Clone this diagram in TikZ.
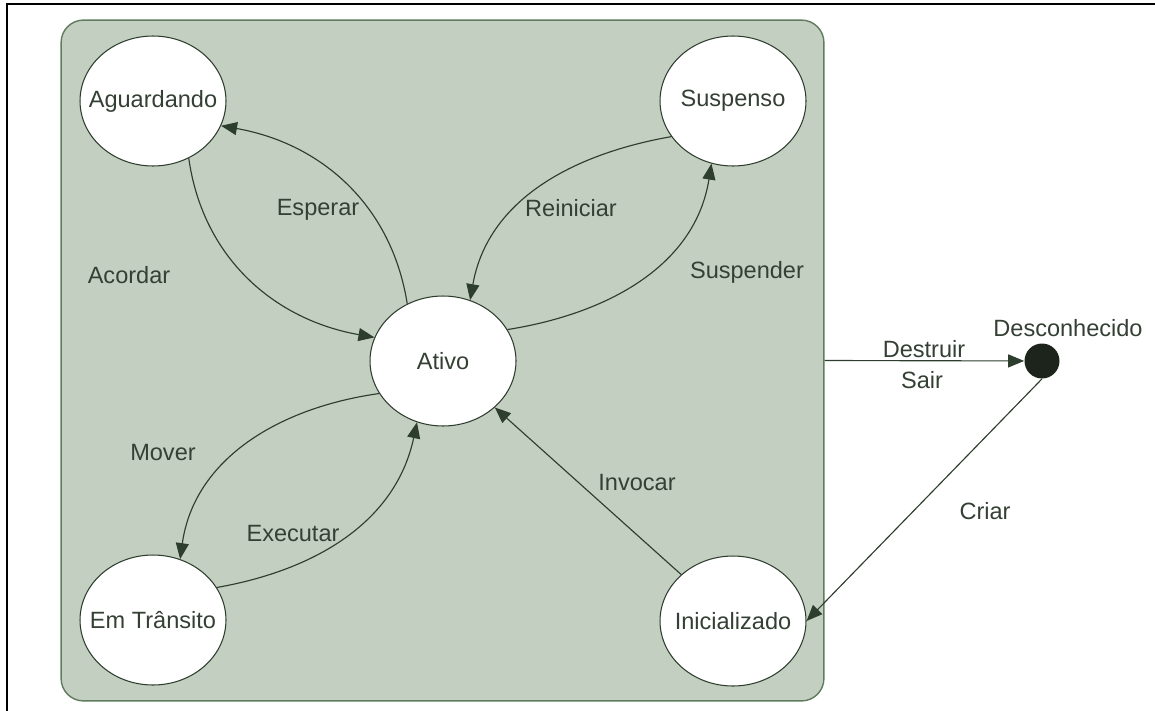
\documentclass[tikz,border=0pt]{standalone}
\usepackage{fontspec}
\setmainfont{Liberation Sans}
\usetikzlibrary{arrows.meta,shapes.geometric}
\definecolor{fundo}{RGB}{195,207,193}
\definecolor{borda}{RGB}{96,124,94}
\definecolor{linha}{RGB}{46,62,46}
\definecolor{texto}{RGB}{52,64,52}
\definecolor{ponto}{RGB}{28,36,28}
\begin{document}
\begin{tikzpicture}[x=0.02cm,y=-0.02cm,font=\fontsize{13.4}{16}\selectfont,
	estado/.style={ellipse,draw=linha,line width=0.6pt,fill=white,minimum width=2.92cm,minimum height=2.6cm,inner sep=0pt,label={[rotulo]center:#1}},
	rotulo/.style={text=texto,inner sep=1pt},
	trans/.style={draw=linha,line width=0.65pt,-{Triangle[length=0.32cm,width=0.26cm]}}]
			    \useasboundingbox (0,0) rectangle (1155,710);
			    \draw [line width=1.15pt] (6.7,712) -- (6.7,4.2) -- (1160,4.2);
			    \node [draw=borda,fill=fundo,line width=0.8pt,rounded corners=0.45cm,minimum width=15.26cm,minimum height=13.62cm] (vida) at (442.5,360.5) {};
			    \node [estado=Aguardando] (aguardando) at (153,101) {};
			    \node [estado=Suspenso] (suspenso) at (733,101) {};
			    \node [estado=Ativo] (ativo) at (443,361) {};
			    \node [estado=Em Trânsito] (transito) at (153,620) {};
			    \node [estado=Inicializado] (inicializado) at (733,621) {};
			    \node [circle,fill=ponto,minimum size=0.7cm,inner sep=0pt] (morto) at (1042,361) {};
			    \node [rotulo] (ldesconhecido) at (1068,328) {Desconhecido};
			    \draw [trans] (ativo.122) to[out=99,in=-10] (aguardando.-20);
			    \node [rotulo] (lesperar) at (318,210) {Esperar};
			    \draw [trans] (aguardando.-58) to[out=-82,in=170] (ativo.161);
			    \node [rotulo] (lacordar) at (129,275) {Acordar};
			    \draw [trans] (suspenso.210) to[out=190,in=80] (ativo.66);
			    \node [rotulo] (lreiniciar) at (571,208) {Reiniciar};
			    \draw [trans] (ativo.26) to[out=9,in=261] (suspenso.251);
			    \node [rotulo] (lsuspender) at (747,272) {Suspender};
			    \draw [trans] (ativo.207) to[out=188,in=82] (transito.66);
			    \node [rotulo] (lmover) at (163,453) {Mover};
			    \draw [trans] (transito.27) to[out=10,in=258] (ativo.247);
			    \node [rotulo] (lexecutar) at (293,534) {Executar};
			    \draw [trans] (inicializado) -- (ativo);
			    \node [rotulo] (linvocar) at (637,483) {Invocar};
			    \draw [trans] (vida.east) -- (morto);
			    \node [rotulo] (ldestruir) at (924,349) {Destruir};
			    \node [rotulo] (lsair) at (922,380) {Sair};
			    \draw [trans] (morto.south) -- (inicializado.east);
			    \node [rotulo] (lcriar) at (985,511) {Criar};
\end{tikzpicture}
\end{document}
